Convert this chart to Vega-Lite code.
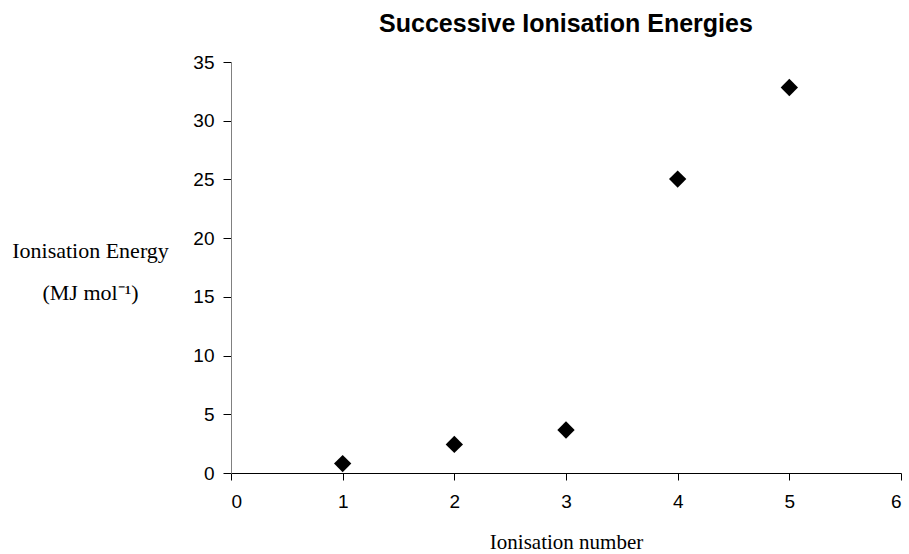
{
  "$schema": "https://vega.github.io/schema/vega-lite/v6.json",
  "width": 670,
  "height": 411,
  "autosize": "none",
  "padding": {"left": 231, "top": 62, "right": 8, "bottom": 81},
  "background": "white",
  "title": {
    "text": "Successive Ionisation Energies",
    "font": "Liberation Sans",
    "fontSize": 25,
    "fontWeight": "bold",
    "color": "black",
    "anchor": "middle",
    "offset": 16
  },
  "data": {
    "values": [
      {"n": 1, "energy": 0.80},
      {"n": 2, "energy": 2.43},
      {"n": 3, "energy": 3.66},
      {"n": 4, "energy": 25.03},
      {"n": 5, "energy": 32.83}
    ]
  },
  "mark": {"type": "point", "shape": "diamond", "filled": true, "color": "black", "size": 300, "opacity": 1},
  "encoding": {
    "x": {
      "field": "n",
      "type": "quantitative",
      "scale": {"domain": [0, 6], "nice": false},
      "axis": {
        "title": "Ionisation number",
        "titleFont": "Liberation Serif",
        "titleFontSize": 21,
        "titleFontWeight": "normal",
        "titleColor": "black",
        "titlePadding": 20,
        "values": [0, 1, 2, 3, 4, 5, 6],
        "labelFont": "Liberation Sans",
        "labelFontSize": 19,
        "labelColor": "black",
        "labelPadding": 12,
        "tickSize": 7,
        "tickColor": "black",
        "domainColor": "black",
        "grid": false
      }
    },
    "y": {
      "field": "energy",
      "type": "quantitative",
      "scale": {"domain": [0, 35], "nice": false},
      "axis": {
        "title": ["Ionisation Energy", "(MJ mol⁻¹)"],
        "titleFont": "Liberation Serif",
        "titleFontSize": 22,
        "titleFontWeight": "normal",
        "titleColor": "black",
        "titleAngle": 0,
        "titleAlign": "center",
        "titleBaseline": "middle",
        "titleX": -141,
        "titleY": 188,
        "titleLineHeight": 42,
        "values": [0, 5, 10, 15, 20, 25, 30, 35],
        "labelFont": "Liberation Sans",
        "labelFontSize": 19,
        "labelColor": "black",
        "labelPadding": 9,
        "tickSize": 8,
        "tickColor": "black",
        "domainColor": "#808080",
        "grid": false
      }
    }
  },
  "config": {"view": {"stroke": null}}
}
